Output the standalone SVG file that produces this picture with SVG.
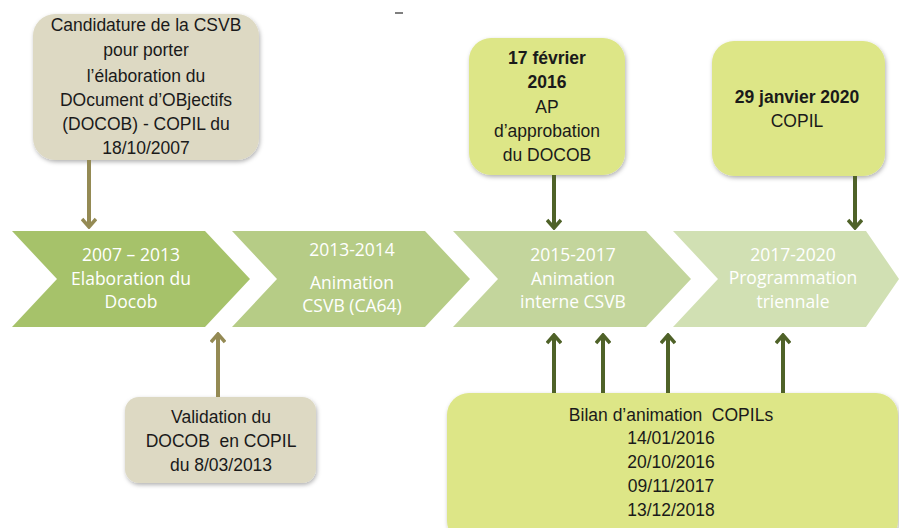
<svg xmlns="http://www.w3.org/2000/svg" width="899" height="528" viewBox="0 0 899 528">
<style>
.box text{font-family:"Liberation Sans",Arial,sans-serif;font-size:17.5px;fill:#1a1a1a;text-anchor:middle;white-space:pre}
.box text.b{font-weight:bold}
.chev text{font-family:"Open Sans","Noto Sans",sans-serif;font-size:17.5px;fill:#ffffff;text-anchor:middle}
.tan{fill:#ddd9c3}
.lime{fill:#dde687}
.ctan{stroke:#948a54;stroke-width:4;fill:none}
.cgrn{stroke:#4f6228;stroke-width:4;fill:none}
</style>
<defs>
<filter id="sh" x="-10%" y="-10%" width="120%" height="130%">
<feDropShadow dx="1" dy="2" stdDeviation="2" flood-color="#000" flood-opacity="0.3"/>
</filter>
<marker id="at" viewBox="0 0 12 16" refX="10" refY="8" markerWidth="12" markerHeight="16" markerUnits="userSpaceOnUse" orient="auto">
<polyline points="2,1 10,8 2,15" fill="none" stroke="#948a54" stroke-width="3.5"/>
</marker>
<marker id="ag" viewBox="0 0 12 16" refX="10" refY="8" markerWidth="12" markerHeight="16" markerUnits="userSpaceOnUse" orient="auto">
<polyline points="2,1 10,8 2,15" fill="none" stroke="#4f6228" stroke-width="3.5"/>
</marker>
</defs>
<rect width="899" height="528" fill="#ffffff"/>
<line x1="395" y1="13" x2="403" y2="13" stroke="#555" stroke-width="1.5"/>

<g id="chevrons" class="chev">
<g id="c1">
<polygon points="12,231 205,231 250,279 205,327 12,327 57,279" fill="#a6c26a"/>
<text x="131" y="261">2007 – 2013</text>
<text x="131" y="285">Elaboration du</text>
<text x="131" y="308">Docob</text>
</g>
<g id="c2">
<polygon points="232,231 425,231 470,279 425,327 232,327 277,279" fill="#b6cc86"/>
<text x="352" y="256">2013-2014</text>
<text x="352" y="289">Animation</text>
<text x="352" y="312">CSVB (CA64)</text>
</g>
<g id="c3">
<polygon points="453,231 646,231 691,279 646,327 453,327 498,279" fill="#c3d59c"/>
<text x="573" y="261">2015-2017</text>
<text x="573" y="285">Animation</text>
<text x="573" y="308">interne CSVB</text>
</g>
<g id="c4">
<polygon points="673,231 866,231 899,279 866,327 673,327 718,279" fill="#d1e0b3"/>
<text x="793" y="261">2017-2020</text>
<text x="793" y="284">Programmation</text>
<text x="793" y="308">triennale</text>
</g>
</g>

<g id="n1" class="box">
<rect x="33" y="14" width="226" height="146" rx="22" class="tan" filter="url(#sh)"/>
<text x="146" y="31">Candidature de la CSVB</text>
<text x="146" y="56">pour porter</text>
<text x="146" y="82">l’élaboration du</text>
<text x="146" y="106">DOcument d’OBjectifs</text>
<text x="146" y="130">(DOCOB) - COPIL du</text>
<text x="146" y="154">18/10/2007</text>
</g>
<g id="n2" class="box">
<rect x="125" y="397" width="191" height="86" rx="14" class="tan" filter="url(#sh)"/>
<text x="221" y="423">Validation du</text>
<text x="221" y="447">DOCOB  en COPIL</text>
<text x="221" y="471">du 8/03/2013</text>
</g>
<g id="n3" class="box">
<rect x="469" y="38" width="156" height="137" rx="22" class="lime" filter="url(#sh)"/>
<text x="547" y="64" class="b">17 février</text>
<text x="547" y="88" class="b">2016</text>
<text x="547" y="113">AP</text>
<text x="547" y="137">d’approbation</text>
<text x="547" y="161">du DOCOB</text>
</g>
<g id="n4" class="box">
<rect x="712" y="41" width="173" height="135" rx="22" class="lime" filter="url(#sh)"/>
<text x="797" y="103" class="b">29 janvier 2020</text>
<text x="797" y="127">COPIL</text>
</g>
<g id="n5" class="box">
<rect x="447" y="393" width="451" height="150" rx="22" class="lime" filter="url(#sh)"/>
<text x="671" y="421">Bilan d’animation  COPILs</text>
<text x="671" y="444">14/01/2016</text>
<text x="671" y="468">20/10/2016</text>
<text x="671" y="492">09/11/2017</text>
<text x="671" y="516">13/12/2018</text>
</g>

<g id="connectors">
<line x1="89" y1="160" x2="89" y2="227" class="ctan" marker-end="url(#at)"/>
<line x1="218" y1="397" x2="218" y2="334" class="ctan" marker-end="url(#at)"/>
<line x1="554" y1="175" x2="554" y2="228" class="cgrn" marker-end="url(#ag)"/>
<line x1="855" y1="176" x2="855" y2="228" class="cgrn" marker-end="url(#ag)"/>
<line x1="554" y1="393" x2="554" y2="335" class="cgrn" marker-end="url(#ag)"/>
<line x1="603" y1="393" x2="603" y2="335" class="cgrn" marker-end="url(#ag)"/>
<line x1="668" y1="393" x2="668" y2="335" class="cgrn" marker-end="url(#ag)"/>
<line x1="783" y1="393" x2="783" y2="335" class="cgrn" marker-end="url(#ag)"/>
</g>
</svg>
